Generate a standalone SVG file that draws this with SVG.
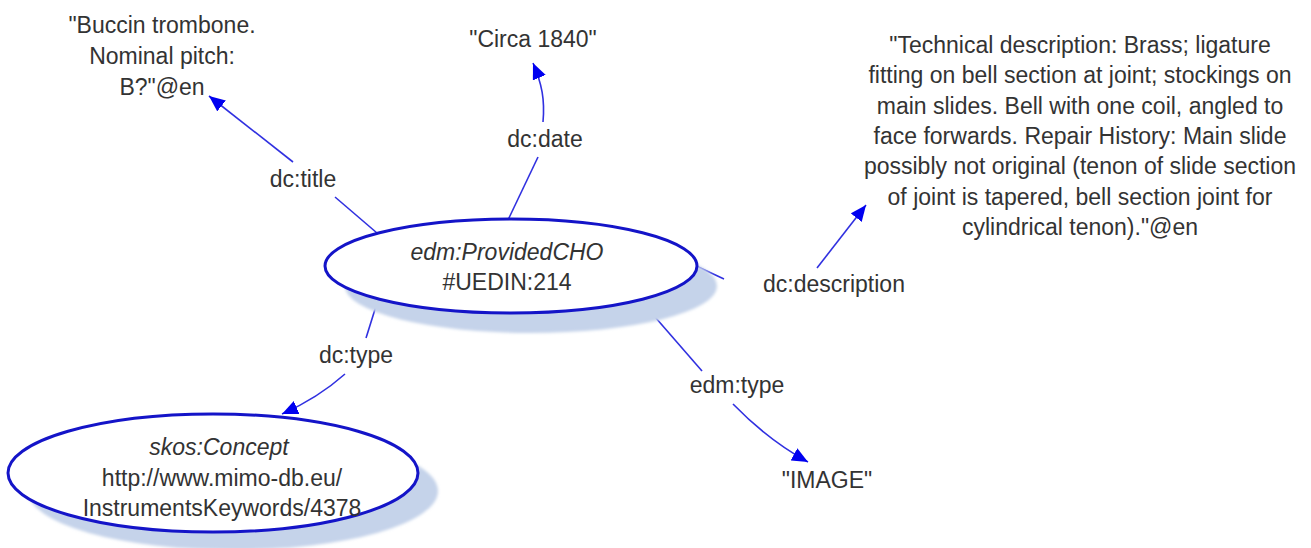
<svg xmlns="http://www.w3.org/2000/svg" width="1311" height="548" viewBox="0 0 1311 548">
<style>
text{font-family:"Liberation Sans",Arial,sans-serif;font-size:23px;fill:#333;text-anchor:middle}
.it{font-style:italic}
.node{fill:#fff;stroke:#1414c8;stroke-width:3}
.shadow{fill:#c5d3ea;filter:url(#blur)}
.conn{fill:none;stroke:#3030e0;stroke-width:1.6}
.arr{marker-end:url(#ah)}
</style>
<defs>
<filter id="blur" x="-10%" y="-20%" width="120%" height="140%"><feGaussianBlur stdDeviation="1.5"/></filter>
<marker id="ah" markerUnits="userSpaceOnUse" markerWidth="17" markerHeight="14" refX="16" refY="7" orient="auto">
<path d="M0,0 L16,7 L0,14 z" fill="#0000f0"/>
</marker>
</defs>
<rect width="1311" height="548" fill="#fff"/>

<g id="connectors">
<path class="conn" d="M377,233 L335,197"/>
<path class="conn arr" d="M293,162 L209,96"/>
<path class="conn" d="M508,220 L538,157"/>
<path class="conn arr" d="M543,122 C545,100 542,84 533,63"/>
<path class="conn" d="M694,265 L724,279"/>
<path class="conn arr" d="M817,268 L866,205"/>
<path class="conn" d="M377,303 L366,338"/>
<path class="conn arr" d="M345,374 Q318,398 282,414"/>
<path class="conn" d="M642,302 L702,371"/>
<path class="conn arr" d="M733,404 Q768,440 808,462"/>
</g>

<g id="node-cho">
<ellipse class="shadow" cx="531" cy="286" rx="186" ry="47"/>
<ellipse class="node" cx="511" cy="266" rx="186" ry="47"/>
<text class="it" x="507" y="260">edm:ProvidedCHO</text>
<text x="507" y="290">#UEDIN:214</text>
</g>

<g id="node-concept">
<ellipse class="shadow" cx="233" cy="491" rx="205" ry="59"/>
<ellipse class="node" cx="213" cy="473" rx="205" ry="59"/>
<text class="it" x="219" y="455">skos:Concept</text>
<text x="222" y="486">http://www.mimo-db.eu/</text>
<text x="222" y="516">InstrumentsKeywords/4378</text>
</g>

<g id="node-title">
<text x="162" y="33">"Buccin trombone.</text>
<text x="162" y="64">Nominal pitch:</text>
<text x="162" y="95">B?"@en</text>
</g>

<g id="node-date">
<text x="533" y="47">"Circa 1840"</text>
</g>

<g id="node-description">
<text x="1080" y="53">"Technical description: Brass; ligature</text>
<text x="1080" y="83">fitting on bell section at joint; stockings on</text>
<text x="1080" y="114">main slides. Bell with one coil, angled to</text>
<text x="1080" y="144">face forwards. Repair History: Main slide</text>
<text x="1080" y="174">possibly not original (tenon of slide section</text>
<text x="1080" y="205">of joint is tapered, bell section joint for</text>
<text x="1080" y="235">cylindrical tenon)."@en</text>
</g>

<g id="node-image">
<text x="827" y="488">"IMAGE"</text>
</g>

<g id="labels">
<text x="303" y="187">dc:title</text>
<text x="545" y="147">dc:date</text>
<text x="834" y="292">dc:description</text>
<text x="356" y="363">dc:type</text>
<text x="737" y="393">edm:type</text>
</g>
</svg>
